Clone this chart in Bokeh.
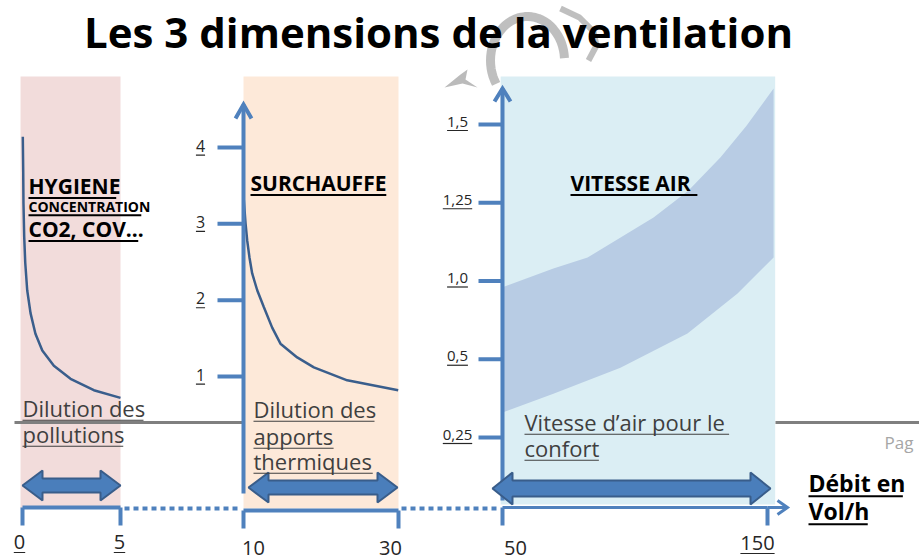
from bokeh.plotting import figure
from bokeh.models import Range1d
from bokeh.embed import file_html
from bokeh.resources import INLINE
from bokeh.core.properties import value
import numpy as np

# ---------------- data ----------------
title = "Les 3 dimensions de la ventilation"

hyg_span = [0, 5]          # Débit (Vol/h) range, hygiene
sur_span = [10, 30]        # Débit range, surchauffe
vit_span = [50, 150]       # Débit range, vitesse air

x_ticks_hyg = [0, 5]
x_ticks_sur = [10, 30]
x_ticks_vit = [50, 150]
x_tick_labels_hyg = ["0", "5"]
x_tick_labels_sur = ["10", "30"]
x_tick_labels_vit = ["50", "150"]

sur_yticks = [1, 2, 3, 4]
sur_ytick_labels = ["1", "2", "3", "4"]

vit_ytick_pos = [0, 1, 2, 3, 4]            # evenly spaced graduations
vit_ytick_labels = ["0,25", "0,5", "1,0", "1,25", "1,5"]

# Hygiène curve (same vertical scale as surchauffe)
hyg_x = [0.015, 0.036, 0.05, 0.087, 0.14, 0.24, 0.41, 0.66, 1.01, 1.60, 2.45, 3.64, 5.0]
hyg_y = [4.14, 3.70, 3.27, 2.83, 2.49, 2.13, 1.83, 1.56, 1.34, 1.14, 0.97, 0.82, 0.72]

# Surchauffe curve
sur_x = [10.04, 10.26, 10.48, 10.77, 11.12, 11.77, 12.62, 13.70, 14.77, 16.93, 19.08, 23.38, 29.96]
sur_y = [3.31, 3.01, 2.78, 2.56, 2.35, 2.13, 1.91, 1.64, 1.43, 1.25, 1.12, 0.95, 0.82]

# Vitesse d'air comfort band (in graduation units of the vitesse axis)
vit_low_x = [50, 69.2, 94.5, 119.8, 138.7, 152.3]
vit_low = [0.32, 0.56, 0.89, 1.33, 1.84, 2.30]
vit_high_x = [50, 69.2, 82.1, 107, 120, 132.3, 142, 152.3]
vit_high = [1.92, 2.16, 2.30, 2.81, 3.15, 3.58, 3.98, 4.46]

# ---------------- layout ----------------
W, H = 919, 560
PX0, PX1, PY_TOP, PY_BOT = 0, 919, 0, 560

AXIS_BLUE = "#4F81BD"
CURVE = "#3A5E8C"
ARROW_FILL = "#4A7EBB"
ARROW_LINE = "#395D8A"
TXT = "#262626"
BODY = "#3F3F3F"
DECOR = "#B4B4B4"
FONT = "Open Sans"

# pixel anchors for each panel scale
P1X = (0, 22, 5, 120)
P2X = (10, 243, 30, 398)
P3X = (50, 502, 150, 767)
YC = (1, 376, 4, 147)
YV = (0, 437, 4, 124)


def mk_range(a):
    va, pa, vb, pb = a
    s = (pb - pa) / (vb - va)
    return s, va, pa


def xrange_of(a):
    s, va, pa = mk_range(a)
    return Range1d(start=va + (PX0 - pa) / s, end=va + (PX1 - pa) / s)


def yrange_of(a):
    s, va, pa = mk_range(a)
    return Range1d(start=va + (PY_BOT - pa) / s, end=va + (PY_TOP - pa) / s)


def to_px(a, v):
    s, va, pa = mk_range(a)
    return pa + (v - va) * s


p = figure(width=W, height=H, x_range=Range1d(PX0, PX1), y_range=Range1d(PY_BOT, PY_TOP),
           x_axis_type=None, y_axis_type=None, toolbar_location=None,
           output_backend="svg", min_border=0, outline_line_color=None,
           background_fill_color="white", border_fill_color="white")
p.extra_x_ranges = {"p1x": xrange_of(P1X), "p2x": xrange_of(P2X), "p3x": xrange_of(P3X)}
p.extra_y_ranges = {"yc": yrange_of(YC), "yv": yrange_of(YV)}

REG = {"i": 0.25, "l": 0.25, "j": 0.25, "f": 0.34, "t": 0.35, "r": 0.41, "s": 0.48, "c": 0.48,
       "z": 0.48, "m": 0.93, "w": 0.78, "v": 0.5, "y": 0.5, "k": 0.52, "x": 0.52, " ": 0.26,
       ",": 0.25, ".": 0.27, "’": 0.18, "'": 0.18, "/": 0.37, "I": 0.28, "M": 0.89, "…": 0.8}


def char_w(c, bold):
    if c in REG:
        w = REG[c]
    elif c.isdigit():
        w = 0.57
    elif c.isupper():
        w = 0.61 if bold else 0.66
    else:
        w = 0.6
    return w * (1.06 if bold else 1.0)


def txt(x, y, s, size, bold=False, color=TXT, align="left", underline=True, ul_gap=0.6):
    p.text(x=[x], y=[y], text=[s], text_font=value(FONT), text_font_size=f"{size}px",
           text_font_style="bold" if bold else "normal", text_color=color,
           text_align=align, text_baseline="middle")
    if underline:
        w = sum(char_w(c, bold) for c in s) * size
        if align == "left":
            x0 = x
        elif align == "center":
            x0 = x - w / 2
        else:
            x0 = x - w
        yy = y + ul_gap * size
        p.segment(x0=[x0], y0=[yy], x1=[x0 + w], y1=[yy], line_color=color,
                  line_width=2 if bold else 1.2)


# ---- decorative grey shapes behind title (slide background) ----
th = np.radians(np.linspace(212, 3, 40))
p.line(527 + 37 * np.cos(th), 60 - 44 * np.sin(th), line_color=DECOR, line_width=9, line_alpha=0.85)
p.line([560, 579, 593, 596, 588], [8, 17, 31, 45, 60], line_color=DECOR, line_width=6, line_alpha=0.85)
p.patch([444, 460, 467, 465, 477, 462], [87, 74, 69, 79, 87, 83], fill_color=DECOR, line_color=None,
        fill_alpha=0.9)

# ---- panel backgrounds ----
BG_TOP, BG_BOT = 76, 508
p.quad(left=[hyg_span[0] - 0.1], right=[hyg_span[1]], top=[BG_TOP], bottom=[BG_BOT],
       fill_color="#F2DCDB", line_color=None, x_range_name="p1x")
p.quad(left=[sur_span[0]], right=[sur_span[1]], top=[BG_TOP], bottom=[BG_BOT],
       fill_color="#FDE9D9", line_color=None, x_range_name="p2x")
p.quad(left=[vit_span[0] - 0.7], right=[vit_low_x[-1] + 0.6], top=[BG_TOP], bottom=[BG_BOT - 4],
       fill_color="#DBEEF4", line_color=None, x_range_name="p3x")

# ---- grey slide line ----
p.segment(x0=[14, 775], y0=[422, 422], x1=[243, PX1], y1=[422, 422], line_color="#7F7F7F", line_width=3)
p.text(x=[884], y=[442], text=["Pag"], text_font=value(FONT), text_font_size="17px",
       text_color="#A6A6A6", text_baseline="middle")

# ---- title ----
p.text(x=[438], y=[31], text=[title], text_font=value(FONT), text_font_size="42px",
       text_font_style="bold", text_color="black", text_align="center", text_baseline="middle")

# ---- vitesse band ----
p.patch(vit_low_x + vit_high_x[::-1], vit_low + vit_high[::-1], fill_color="#B8CCE4",
        line_color=None, x_range_name="p3x", y_range_name="yv")

# ---- curves ----
p.line(hyg_x, hyg_y, line_color=CURVE, line_width=2.5, x_range_name="p1x", y_range_name="yc")
p.line(sur_x, sur_y, line_color=CURVE, line_width=2.5, x_range_name="p2x", y_range_name="yc")

# ---- vertical axes ----
ax2 = to_px(P2X, sur_span[0])
ax3 = to_px(P3X, vit_span[0])
p.segment(x0=[ax2], y0=[493], x1=[ax2], y1=[104], line_color=AXIS_BLUE, line_width=4)
p.line([ax2 - 8, ax2, ax2 + 8], [118, 104, 118], line_color=AXIS_BLUE, line_width=4, line_join="miter")
p.segment(x0=[ax3], y0=[500], x1=[ax3], y1=[88], line_color=AXIS_BLUE, line_width=4)
p.line([ax3 - 8, ax3, ax3 + 8], [101, 88, 101], line_color=AXIS_BLUE, line_width=4, line_join="miter")

# y ticks surchauffe
p.segment(x0=[ax2 - 26] * 4, y0=sur_yticks, x1=[ax2] * 4, y1=sur_yticks,
          line_color=AXIS_BLUE, line_width=4, y_range_name="yc")
for v, lab in zip(sur_yticks, sur_ytick_labels):
    txt(200, to_px(YC, v) - 2, lab, 16, align="center", ul_gap=0.6)

# y ticks vitesse
p.segment(x0=[ax3 - 24] * 5, y0=vit_ytick_pos, x1=[ax3] * 5, y1=vit_ytick_pos,
          line_color=AXIS_BLUE, line_width=4, y_range_name="yv")
for v, lab in zip(vit_ytick_pos, vit_ytick_labels):
    txt(457, to_px(YV, v) - 3, lab, 15, align="center", ul_gap=0.6)


# ---- horizontal axes ----
def haxis(a, span, ticks, labels, yax, lw, offsets, uls, ly):
    x0, x1 = to_px(a, span[0]), to_px(a, span[1])
    p.segment(x0=[x0], y0=[yax], x1=[x1], y1=[yax], line_color=AXIS_BLUE, line_width=lw)
    for t, lab, off, ul, yy in zip(ticks, labels, offsets, uls, ly):
        tx = to_px(a, t)
        p.segment(x0=[tx], y0=[yax], x1=[tx], y1=[yax + 18], line_color=AXIS_BLUE, line_width=4)
        txt(tx + off, yy, lab, 20, align="center", underline=ul, ul_gap=0.55)


haxis(P1X, hyg_span, x_ticks_hyg, x_tick_labels_hyg, 507, 4, [-3, -1], [True, True], [541, 541])
haxis(P2X, sur_span, x_ticks_sur, x_tick_labels_sur, 510, 4, [10, -8], [False, False], [547, 547])
haxis(P3X, vit_span, x_ticks_vit, x_tick_labels_vit, 507, 3, [13, -10], [False, True], [547, 542])
# x arrow extension for vitesse
xe = to_px(P3X, vit_span[1])
p.segment(x0=[xe], y0=[507], x1=[786], y1=[507], line_color=AXIS_BLUE, line_width=3)
p.line([777, 787, 777], [500, 507, 514], line_color=AXIS_BLUE, line_width=3, line_join="miter")

# dotted connectors
p.segment(x0=[to_px(P1X, hyg_span[1]) + 4, to_px(P2X, sur_span[1]) + 3], y0=[508, 508],
          x1=[to_px(P2X, sur_span[0]) - 3, ax3 - 3], y1=[508, 508],
          line_color=AXIS_BLUE, line_width=4, line_dash="5 4")


# ---- double arrows ----
def darrow(xl, xr, yc, sh=7, hh=15, hl=20):
    xs = [xl, xl + hl, xl + hl, xr - hl, xr - hl, xr, xr - hl, xr - hl, xl + hl, xl + hl]
    ys = [yc, yc - hh, yc - sh, yc - sh, yc - hh, yc, yc + hh, yc + sh, yc + sh, yc + hh]
    p.patch(xs, ys, fill_color=ARROW_FILL, line_color=ARROW_LINE, line_width=2)


darrow(to_px(P1X, hyg_span[0]), to_px(P1X, hyg_span[1]), 485)
darrow(to_px(P2X, sur_span[0]) + 5, to_px(P2X, sur_span[1]) - 1, 487)
darrow(ax3 - 10, to_px(P3X, vit_span[1]) + 3, 488, sh=8, hh=16)

# ---- panel texts ----
txt(28, 185, "HYGIENE", 21, bold=True, color="black", ul_gap=0.6)
txt(28, 206, "CONCENTRATION", 14, bold=True, color="black", ul_gap=0.62)
txt(28, 228, "CO2, COV…", 21, bold=True, color="black", ul_gap=0.6)
txt(22, 407, "Dilution des", 22, color=BODY, ul_gap=0.58)
txt(22, 433, "pollutions", 22, color=BODY, ul_gap=0.58)

txt(250, 182, "SURCHAUFFE", 21, bold=True, color="black", ul_gap=0.6)
txt(253, 408, "Dilution des", 22, color=BODY, ul_gap=0.58)
txt(253, 435, "apports", 22, color=BODY, ul_gap=0.58)
txt(253, 460, "thermiques", 22, color=BODY, ul_gap=0.58)

txt(570, 182, "VITESSE AIR", 21, bold=True, color="black", ul_gap=0.6)
txt(524, 421, "Vitesse d’air pour le", 22, color=BODY, ul_gap=0.58)
txt(524, 447, "confort", 22, color=BODY, ul_gap=0.58)

txt(808, 482, "Débit en", 23, bold=True, color="black", ul_gap=0.6)
txt(808, 510, "Vol/h", 23, bold=True, color="black", ul_gap=0.6)

open("out.html", "w").write(file_html(p, INLINE))
